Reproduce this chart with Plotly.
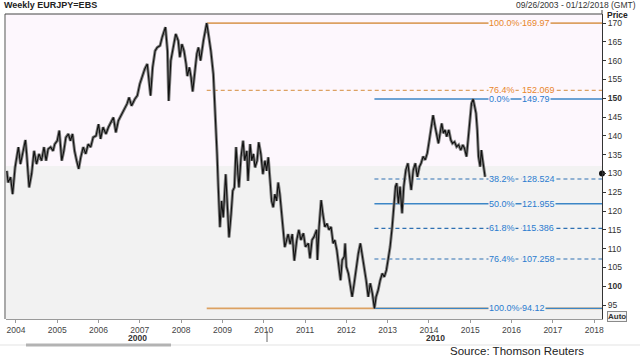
import plotly.graph_objects as go

# ---------------- data ----------------
dates = [
    2003.78, 2003.81, 2003.87, 2003.92, 2003.98, 2004.06, 2004.11, 2004.16, 2004.23, 2004.26,
    2004.32, 2004.38, 2004.44, 2004.50, 2004.56, 2004.62, 2004.68, 2004.73, 2004.78, 2004.84,
    2004.90, 2004.94, 2005.00, 2005.05, 2005.08, 2005.11, 2005.16, 2005.21, 2005.27, 2005.32,
    2005.37, 2005.42, 2005.47, 2005.52, 2005.57, 2005.63, 2005.69, 2005.75, 2005.81, 2005.87,
    2005.94, 2006.00, 2006.05, 2006.11, 2006.18, 2006.24,
    2006.36, 2006.42, 2006.48, 2006.56, 2006.64, 2006.69, 2006.74, 2006.80, 2006.88, 2006.94,
    2007.00, 2007.07, 2007.12, 2007.18, 2007.22, 2007.26, 2007.31, 2007.37, 2007.42, 2007.49,
    2007.54, 2007.59, 2007.62, 2007.67, 2007.70, 2007.75, 2007.81, 2007.87, 2007.93, 2007.97,
    2008.02, 2008.07, 2008.12, 2008.15, 2008.20, 2008.24, 2008.28, 2008.33, 2008.38, 2008.42,
    2008.47, 2008.54, 2008.60, 2008.62,
    2008.66, 2008.72, 2008.78, 2008.80, 2008.84, 2008.87, 2008.90, 2008.92, 2008.94, 2008.98,
    2009.02, 2009.08, 2009.12, 2009.16, 2009.21, 2009.25, 2009.29, 2009.33, 2009.37, 2009.40,
    2009.45, 2009.50, 2009.54, 2009.59, 2009.62, 2009.67, 2009.71, 2009.75, 2009.79, 2009.84,
    2009.88, 2009.93, 2009.98, 2010.03, 2010.07, 2010.11, 2010.16, 2010.19, 2010.23, 2010.27,
    2010.31, 2010.35, 2010.39, 2010.43, 2010.47, 2010.51, 2010.55, 2010.59, 2010.64, 2010.69,
    2010.74,
    2010.80, 2010.85, 2010.90, 2010.96, 2011.01, 2011.08, 2011.12, 2011.17, 2011.22, 2011.28,
    2011.30, 2011.34, 2011.39, 2011.43, 2011.48, 2011.53, 2011.58, 2011.63, 2011.68, 2011.72,
    2011.77, 2011.82, 2011.86, 2011.90, 2011.95, 2011.97, 2012.00, 2012.05, 2012.09, 2012.14,
    2012.19, 2012.24, 2012.29, 2012.34, 2012.39, 2012.43, 2012.48, 2012.53, 2012.58, 2012.63,
    2012.68, 2012.72, 2012.77, 2012.82, 2012.87, 2012.92, 2012.97, 2013.01, 2013.06, 2013.11,
    2013.16, 2013.19,
    2013.22, 2013.26, 2013.30, 2013.35, 2013.39, 2013.44, 2013.49, 2013.52, 2013.57, 2013.62,
    2013.67, 2013.72, 2013.77, 2013.81, 2013.86, 2013.91, 2013.96, 2014.01, 2014.06, 2014.10,
    2014.15, 2014.19, 2014.23, 2014.27, 2014.31, 2014.35, 2014.39, 2014.43, 2014.48, 2014.53,
    2014.57, 2014.62, 2014.67, 2014.72, 2014.77, 2014.82, 2014.86, 2014.91, 2014.95, 2014.99,
    2015.03, 2015.07, 2015.11, 2015.14, 2015.17, 2015.20, 2015.24, 2015.27, 2015.30, 2015.33,
    2015.36,
]
prices = [
    130.7, 127.6, 129.0, 124.5, 131.6, 137.0, 132.5, 135.2, 138.9, 135.2,
    126.3, 129.9, 136.0, 132.5, 135.2, 133.4, 137.0, 133.4, 136.5, 137.0,
    136.0, 137.8, 138.7, 141.4, 137.0, 133.4, 136.0, 139.6, 140.5, 138.7,
    140.5, 136.0, 133.4, 131.2, 134.3, 137.0, 135.2, 137.8, 137.0, 139.6,
    140.0, 143.1, 139.2, 142.3, 140.5, 142.3,
    144.9, 140.9, 144.0, 145.8, 147.6, 148.5, 150.2, 148.0, 149.8, 150.7,
    153.8, 156.4, 157.8, 159.1, 154.7, 150.7, 158.2, 162.6, 163.5, 164.0,
    166.2, 168.4, 168.9, 162.6, 149.3, 160.0, 163.5, 167.1, 165.3, 160.9,
    164.4, 162.6, 159.1, 155.9, 158.2, 155.6, 151.8, 157.3, 161.8, 163.5,
    160.0, 165.3, 168.4, 169.97,
    167.1, 162.6, 156.4, 152.0, 144.9, 135.2, 126.3, 119.2, 115.7, 122.7,
    118.3, 129.8, 122.7, 113.0, 119.2, 125.4, 126.3, 137.0, 130.7, 126.3,
    134.3, 138.7, 133.4, 136.0, 128.0, 137.8, 133.4, 135.2, 131.6, 133.4,
    138.3, 135.2, 129.8, 133.4, 130.7, 134.3, 127.2, 122.7, 121.0, 124.5,
    122.7, 127.6, 124.5, 119.2, 113.9, 110.4, 112.1, 113.9, 111.2, 113.9,
    106.8,
    112.3, 115.0, 112.3, 114.1, 110.5, 111.4, 107.4, 112.3, 113.2, 115.0,
    107.0, 115.8, 122.9, 119.4, 115.8, 116.7, 115.0, 115.8, 111.4, 112.3,
    109.6, 105.2, 101.6, 107.0, 107.9, 111.4, 105.2, 103.4, 100.8, 97.2,
    100.8, 105.2, 108.7, 111.4, 107.9, 106.1, 101.6, 97.2, 100.8, 98.1,
    94.12, 97.2, 99.0, 101.6, 103.4, 102.5, 104.3, 107.0, 110.5, 115.8,
    122.9, 126.5,
    127.4, 122.0, 126.5, 119.4, 126.5, 130.9, 132.7, 130.0, 125.6, 130.9,
    132.7, 129.1, 131.8, 132.7, 134.5, 133.6, 135.4, 138.9, 142.4, 145.5,
    142.4, 139.8, 138.0, 140.7, 143.3, 140.7, 141.6, 139.8, 141.6, 138.9,
    138.0, 138.4, 137.1, 137.6, 136.2, 137.6, 136.7, 134.5, 139.8, 145.1,
    148.6, 149.79, 147.7, 146.0, 141.6, 134.5, 131.8, 136.2, 133.6, 130.9,
    129.1,
]
last_price = 130.0

# Fibonacci retracement (orange: 2008 high -> 2012 low)
orange_start = 2008.62
orange_pcts = ["100.0%", "76.4%", ""]
orange_vals = [169.97, 152.069, 94.12]
orange_dash = ["solid", "dash", "solid"]

# Fibonacci retracement (blue: 2012 low -> 2015 high)
blue_start = 2012.68
blue_pcts = ["0.0%", "38.2%", "50.0%", "61.8%", "76.4%", "100.0%"]
blue_vals = [149.79, 128.524, 121.955, 115.386, 107.258, 94.12]
blue_dash = ["solid", "dash", "solid", "dash", "dash", "solid"]

year_ticks = list(range(2004, 2019))
price_ticks = list(range(95, 171, 5))
bold_prices = [100, 150]

x_min, x_max = 2003.76, 2018.19
y_min, y_max = 91.3, 172.4
shade_top = 132.0

# ---------------- figure ----------------
W, H = 640, 359
ML, MR, MT, MB = 6, 38, 14, 40
PW, PH = W - ML - MR, H - MT - MB


def px(xp):
    return (xp - ML) / PW


def py(yp):
    return (H - MB - yp) / PH


FONT = "Liberation Sans, Arial, sans-serif"
PINK = "#fdf7fd"
GRAY = "#f2f2f2"
ORANGE_LINE = "#dca162"
ORANGE_TXT = "#e8862c"
BLUE_LINE = "#3c86c6"
BLUE_TXT = "#2a7bcf"

fig = go.Figure()

# fib lines
for pct, val, dash in zip(orange_pcts, orange_vals, orange_dash):
    fig.add_trace(go.Scatter(x=[orange_start, x_max], y=[val, val], mode="lines",
                             line=dict(color=ORANGE_LINE, width=1.6 if dash == "solid" else 1.3,
                                       dash="solid" if dash == "solid" else "4px,3px"),
                             hoverinfo="skip", showlegend=False, cliponaxis=False))
for pct, val, dash in zip(blue_pcts, blue_vals, blue_dash):
    fig.add_trace(go.Scatter(x=[blue_start, x_max], y=[val, val], mode="lines",
                             line=dict(color=BLUE_LINE if dash == "solid" else "#2e70b2",
                                       width=1.4 if dash == "solid" else 1.1,
                                       dash="solid" if dash == "solid" else "4px,3px"),
                             hoverinfo="skip", showlegend=False, cliponaxis=False))

# price series (gray halo + black core like weekly bars)
fig.add_trace(go.Scatter(x=dates, y=prices, mode="lines",
                         line=dict(color="#808080", width=3.0),
                         hoverinfo="skip", showlegend=False))
fig.add_trace(go.Scatter(x=dates, y=prices, mode="lines",
                         line=dict(color="#111111", width=1.1),
                         showlegend=False))

# last price marker on the axis
fig.add_trace(go.Scatter(x=[x_max], y=[last_price], mode="markers",
                         marker=dict(color="#111111", size=6),
                         cliponaxis=False, hoverinfo="skip", showlegend=False))

annotations = []


def fib_label(pct, val, color):
    bg = PINK if val > shade_top else GRAY
    if pct:
        annotations.append(dict(x=px(488), xref="paper", y=val, yref="y", text=pct,
                                xanchor="left", yanchor="middle", showarrow=False,
                                font=dict(family=FONT, size=9, color=color),
                                bgcolor=bg, borderpad=0))
        annotations.append(dict(x=px(521), xref="paper", y=val, yref="y", text=f"{val:g}",
                                xanchor="left", yanchor="middle", showarrow=False,
                                font=dict(family=FONT, size=9, color=color),
                                bgcolor=bg, borderpad=0))


for pct, val in zip(orange_pcts, orange_vals):
    fib_label(pct, val, ORANGE_TXT)
for pct, val in zip(blue_pcts, blue_vals):
    fib_label(pct, val, BLUE_TXT)

annotations += [
    dict(x=px(2), y=py(5), xref="paper", yref="paper", text="<b>Weekly EURJPY=EBS</b>",
         xanchor="left", yanchor="middle", showarrow=False,
         font=dict(family=FONT, size=9, color="#222222")),
    dict(x=px(638), y=py(5), xref="paper", yref="paper",
         text="09/26/2003 - 01/12/2018 (GMT)", xanchor="right", yanchor="middle",
         showarrow=False, font=dict(family=FONT, size=8.5, color="#333333")),
    dict(x=px(617), y=py(15), xref="paper", yref="paper", text="<b>Price</b>",
         xanchor="center", yanchor="middle", showarrow=False,
         font=dict(family=FONT, size=8.5, color="#222222")),
    dict(x=px(617), y=py(316), xref="paper", yref="paper", text="<b>Auto</b>",
         xanchor="center", yanchor="middle", showarrow=False, bgcolor="#f4f4f4",
         bordercolor="#8a8a8a", borderwidth=1, borderpad=0,
         font=dict(family=FONT, size=8, color="#333333")),
    dict(x=px(137), y=py(338), xref="paper", yref="paper", text="<b>2000</b>",
         xanchor="center", yanchor="middle", showarrow=False,
         font=dict(family=FONT, size=8.5, color="#333333")),
    dict(x=px(435), y=py(338), xref="paper", yref="paper", text="<b>2010</b>",
         xanchor="center", yanchor="middle", showarrow=False,
         font=dict(family=FONT, size=8.5, color="#333333")),
    dict(x=px(448), y=py(351), xref="paper", yref="paper", text="Source: Thomson Reuters",
         xanchor="left", yanchor="middle", showarrow=False,
         font=dict(family=FONT, size=11.5, color="#222222")),
]

shapes = [
    # lower gray shaded zone
    dict(type="rect", xref="paper", yref="y", x0=0, x1=1, y0=y_min, y1=shade_top,
         fillcolor=GRAY, line=dict(width=0), layer="below"),
    # frame: left line and top line
    dict(type="line", xref="paper", yref="paper", x0=px(5), x1=px(5), y0=0, y1=1,
         line=dict(color="#8c8c8c", width=1.5)),
    dict(type="line", xref="paper", yref="paper", x0=px(5), x1=1, y0=1, y1=1,
         line=dict(color="#444444", width=1)),
    dict(type="line", xref="paper", yref="paper", x0=1, x1=1, y0=1, y1=py(10),
         line=dict(color="#444444", width=1)),
    # bottom navigation strip
    dict(type="line", xref="paper", yref="paper", x0=px(0), x1=px(640), y0=py(345), y1=py(345),
         line=dict(color="#e3e3e3", width=1)),
    dict(type="line", xref="paper", yref="paper", x0=px(26), x1=px(171), y0=py(345), y1=py(345),
         line=dict(color="#b3b3b3", width=3)),
    dict(type="line", xref="paper", yref="paper", x0=px(267), x1=px(267), y0=py(331), y1=py(342),
         line=dict(color="#666666", width=1)),
]

fig.update_layout(
    width=W, height=H,
    margin=dict(l=ML, r=MR, t=MT, b=MB),
    paper_bgcolor="white",
    plot_bgcolor=PINK,
    annotations=annotations,
    shapes=shapes,
    showlegend=False,
    hovermode=False,
    xaxis=dict(range=[x_min, x_max], tickmode="array", tickvals=year_ticks,
               ticktext=[str(y) for y in year_ticks], showgrid=False, zeroline=False,
               showline=True, linecolor="#9a9a9a", linewidth=1,
               ticks="outside", ticklen=3, tickcolor="#9a9a9a",
               tickfont=dict(family=FONT, size=8.5, color="#444444")),
    yaxis=dict(range=[y_min, y_max], side="right", tickmode="array", tickvals=price_ticks,
               ticktext=[f"<b>{v}</b>" if v in bold_prices else str(v) for v in price_ticks],
               showgrid=False, zeroline=False, showline=True, linecolor="#333333", linewidth=1,
               ticks="outside", ticklen=3, tickcolor="#333333",
               tickfont=dict(family=FONT, size=8.5, color="#333333")),
)

fig.write_html("out.html",
               config={"displayModeBar": False},
               post_script="document.body.style.margin='0';document.body.style.overflow='hidden';")
